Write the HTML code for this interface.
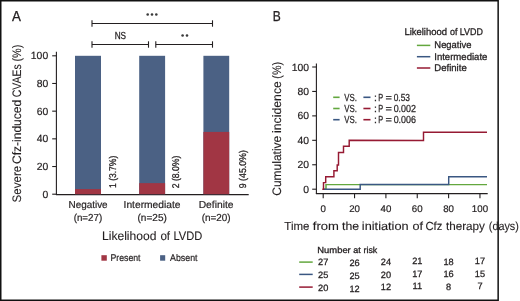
<!DOCTYPE html>
<html><head><meta charset="utf-8"><style>
html,body{margin:0;padding:0;background:#fff;}
body{width:520px;height:301px;overflow:hidden;}
svg{display:block;font-family:"Liberation Sans", sans-serif;} text{fill:#231f20;stroke:#231f20;stroke-width:0.2px;} svg{-webkit-font-smoothing:antialiased;will-change:transform;text-rendering:geometricPrecision;}
</style></head><body>
<svg width="520" height="301" viewBox="0 0 520 301">
<rect x="0.75" y="0.75" width="497.4" height="299.5" fill="none" stroke="#111" stroke-width="1.5"/>
<text x="12.0" y="21.3" font-size="14.4" textLength="8.9" lengthAdjust="spacingAndGlyphs" style="stroke-width:0.3px">A</text>
<text transform="translate(20.5,202.53) rotate(-90)" font-size="12.3" textLength="36.74" lengthAdjust="spacingAndGlyphs" style="stroke-width:0.12px">Severe</text>
<text transform="translate(20.5,164.01) rotate(-90)" font-size="12.3" textLength="64.19" lengthAdjust="spacingAndGlyphs" style="stroke-width:0.12px">Cfz-induced</text>
<text transform="translate(20.5,97.22) rotate(-90)" font-size="12.3" textLength="32.99" lengthAdjust="spacingAndGlyphs" style="stroke-width:0.12px">CVAEs</text>
<text transform="translate(20.5,61.57) rotate(-90)" font-size="12.3" textLength="16.84" lengthAdjust="spacingAndGlyphs" style="stroke-width:0.12px">(%)</text>
<line x1="56.4" y1="51.8" x2="56.4" y2="194.9" stroke="#231f20" stroke-width="1.1"/>
<line x1="55.9" y1="194.6" x2="248.7" y2="194.6" stroke="#231f20" stroke-width="1.25"/>
<line x1="52.2" y1="194.2" x2="56.4" y2="194.2" stroke="#231f20" stroke-width="1.1"/>
<text x="48.2" y="197.79999999999998" font-size="10.4" text-anchor="end">0</text>
<line x1="52.2" y1="166.51999999999998" x2="56.4" y2="166.51999999999998" stroke="#231f20" stroke-width="1.1"/>
<text x="48.2" y="170.11999999999998" font-size="10.4" text-anchor="end">20</text>
<line x1="52.2" y1="138.83999999999997" x2="56.4" y2="138.83999999999997" stroke="#231f20" stroke-width="1.1"/>
<text x="48.2" y="142.43999999999997" font-size="10.4" text-anchor="end">40</text>
<line x1="52.2" y1="111.16" x2="56.4" y2="111.16" stroke="#231f20" stroke-width="1.1"/>
<text x="48.2" y="114.75999999999999" font-size="10.4" text-anchor="end">60</text>
<line x1="52.2" y1="83.47999999999999" x2="56.4" y2="83.47999999999999" stroke="#231f20" stroke-width="1.1"/>
<text x="48.2" y="87.07999999999998" font-size="10.4" text-anchor="end">80</text>
<line x1="52.2" y1="55.80000000000001" x2="56.4" y2="55.80000000000001" stroke="#231f20" stroke-width="1.1"/>
<text x="48.2" y="59.40000000000001" font-size="10.4" text-anchor="end">100</text>
<rect x="75.0" y="55.80000000000001" width="26.0" height="138.39999999999998" fill="#4b6184"/>
<rect x="75.0" y="189.0792" width="26.0" height="5.1208" fill="#a13644"/>
<rect x="139.2" y="55.80000000000001" width="25.9" height="138.39999999999998" fill="#4b6184"/>
<rect x="139.2" y="183.128" width="25.9" height="11.072" fill="#a13644"/>
<rect x="203.4" y="55.80000000000001" width="25.8" height="138.39999999999998" fill="#4b6184"/>
<rect x="203.4" y="131.92" width="25.8" height="62.279999999999994" fill="#a13644"/>
<text transform="translate(116.2,188.0) rotate(-90)" font-size="9.8" textLength="32.3" lengthAdjust="spacingAndGlyphs" style="stroke-width:0.28px">1 (3.7%)</text>
<text transform="translate(179.3,188.3) rotate(-90)" font-size="9.8" textLength="32.6" lengthAdjust="spacingAndGlyphs" style="stroke-width:0.28px">2 (8.0%)</text>
<text transform="translate(246.4,188.3) rotate(-90)" font-size="9.8" textLength="38.2" lengthAdjust="spacingAndGlyphs" style="stroke-width:0.28px">9 (45.0%)</text>
<text x="68.49" y="208.2" font-size="10.2" textLength="39.15" lengthAdjust="spacingAndGlyphs">Negative</text>
<text x="73.69" y="220.6" font-size="10.2" textLength="28.51" lengthAdjust="spacingAndGlyphs">(n=27)</text>
<text x="123.55" y="208.2" font-size="10.2" textLength="57.0" lengthAdjust="spacingAndGlyphs">Intermediate</text>
<text x="137.48" y="220.6" font-size="10.2" textLength="29.35" lengthAdjust="spacingAndGlyphs">(n=25)</text>
<text x="198.66" y="208.2" font-size="10.2" textLength="34.9" lengthAdjust="spacingAndGlyphs">Definite</text>
<text x="201.69" y="220.6" font-size="10.2" textLength="28.93" lengthAdjust="spacingAndGlyphs">(n=20)</text>
<text x="102.01" y="239.7" font-size="12.2" textLength="54.37" lengthAdjust="spacingAndGlyphs" style="stroke-width:0.12px">Likelihood</text>
<text x="160.41" y="239.7" font-size="12.2" textLength="9.67" lengthAdjust="spacingAndGlyphs" style="stroke-width:0.12px">of</text>
<text x="173.41" y="239.7" font-size="12.2" textLength="28.8" lengthAdjust="spacingAndGlyphs" style="stroke-width:0.12px">LVDD</text>
<rect x="101.4" y="255.2" width="5.4" height="5.5" fill="#a13644"/>
<text x="110.48" y="261.2" font-size="9.7" textLength="30.08" lengthAdjust="spacingAndGlyphs">Present</text>
<rect x="160.1" y="255.2" width="5.1" height="5.5" fill="#4b6184"/>
<text x="170.08" y="261.2" font-size="9.7" textLength="27.48" lengthAdjust="spacingAndGlyphs">Absent</text>
<line x1="92.0" y1="23.5" x2="212.5" y2="23.5" stroke="#231f20" stroke-width="1.1"/>
<line x1="92.0" y1="20.3" x2="92.0" y2="26.7" stroke="#231f20" stroke-width="1.1"/>
<line x1="212.5" y1="20.3" x2="212.5" y2="26.7" stroke="#231f20" stroke-width="1.1"/>
<line x1="92.0" y1="44.5" x2="148.5" y2="44.5" stroke="#231f20" stroke-width="1.1"/>
<line x1="92.0" y1="41.3" x2="92.0" y2="47.7" stroke="#231f20" stroke-width="1.1"/>
<line x1="148.5" y1="41.3" x2="148.5" y2="47.7" stroke="#231f20" stroke-width="1.1"/>
<line x1="155.8" y1="44.5" x2="212.5" y2="44.5" stroke="#231f20" stroke-width="1.1"/>
<line x1="155.8" y1="41.3" x2="155.8" y2="47.7" stroke="#231f20" stroke-width="1.1"/>
<line x1="212.5" y1="41.3" x2="212.5" y2="47.7" stroke="#231f20" stroke-width="1.1"/>
<circle cx="147.7" cy="14.5" r="1.3" fill="#3a3a3a"/>
<circle cx="152.0" cy="14.5" r="1.3" fill="#3a3a3a"/>
<circle cx="156.3" cy="14.5" r="1.3" fill="#3a3a3a"/>
<text x="120.35" y="38.8" font-size="10.2" text-anchor="middle" textLength="11.4" lengthAdjust="spacingAndGlyphs" style="stroke-width:0.3px">NS</text>
<circle cx="182.6" cy="35.5" r="1.3" fill="#3a3a3a"/>
<circle cx="187.0" cy="35.5" r="1.3" fill="#3a3a3a"/>
<text x="272.8" y="21.3" font-size="14.4" textLength="8.0" lengthAdjust="spacingAndGlyphs" style="stroke-width:0.3px">B</text>
<text transform="translate(281.0,195.71) rotate(-90)" font-size="12.3" textLength="59.94" lengthAdjust="spacingAndGlyphs" style="stroke-width:0.12px">Cumulative</text>
<text transform="translate(281.0,132.92) rotate(-90)" font-size="12.3" textLength="51.76" lengthAdjust="spacingAndGlyphs" style="stroke-width:0.12px">incidence</text>
<text transform="translate(281.0,78.67) rotate(-90)" font-size="12.3" textLength="16.73" lengthAdjust="spacingAndGlyphs" style="stroke-width:0.12px">(%)</text>
<line x1="316.4" y1="63.5" x2="316.4" y2="194.1" stroke="#231f20" stroke-width="1.1"/>
<line x1="315.9" y1="193.6" x2="487.7" y2="193.6" stroke="#231f20" stroke-width="1.1"/>
<line x1="312.2" y1="189.2" x2="316.4" y2="189.2" stroke="#231f20" stroke-width="1.1"/>
<text x="309.0" y="192.79999999999998" font-size="10.4" text-anchor="end">0</text>
<line x1="312.2" y1="164.76" x2="316.4" y2="164.76" stroke="#231f20" stroke-width="1.1"/>
<text x="309.0" y="168.35999999999999" font-size="10.4" text-anchor="end">20</text>
<line x1="312.2" y1="140.32" x2="316.4" y2="140.32" stroke="#231f20" stroke-width="1.1"/>
<text x="309.0" y="143.92" font-size="10.4" text-anchor="end">40</text>
<line x1="312.2" y1="115.88" x2="316.4" y2="115.88" stroke="#231f20" stroke-width="1.1"/>
<text x="309.0" y="119.47999999999999" font-size="10.4" text-anchor="end">60</text>
<line x1="312.2" y1="91.44" x2="316.4" y2="91.44" stroke="#231f20" stroke-width="1.1"/>
<text x="309.0" y="95.03999999999999" font-size="10.4" text-anchor="end">80</text>
<line x1="312.2" y1="66.99999999999999" x2="316.4" y2="66.99999999999999" stroke="#231f20" stroke-width="1.1"/>
<text x="309.0" y="70.59999999999998" font-size="10.4" text-anchor="end">100</text>
<line x1="323.2" y1="193.6" x2="323.2" y2="198.2" stroke="#231f20" stroke-width="1.1"/>
<text x="323.2" y="211.8" font-size="9.7" text-anchor="middle">0</text>
<line x1="354.55" y1="193.6" x2="354.55" y2="198.2" stroke="#231f20" stroke-width="1.1"/>
<text x="354.55" y="211.8" font-size="9.7" text-anchor="middle">20</text>
<line x1="385.9" y1="193.6" x2="385.9" y2="198.2" stroke="#231f20" stroke-width="1.1"/>
<text x="385.9" y="211.8" font-size="9.7" text-anchor="middle">40</text>
<line x1="417.25" y1="193.6" x2="417.25" y2="198.2" stroke="#231f20" stroke-width="1.1"/>
<text x="417.25" y="211.8" font-size="9.7" text-anchor="middle">60</text>
<line x1="448.59999999999997" y1="193.6" x2="448.59999999999997" y2="198.2" stroke="#231f20" stroke-width="1.1"/>
<text x="448.59999999999997" y="211.8" font-size="9.7" text-anchor="middle">80</text>
<line x1="479.95" y1="193.6" x2="479.95" y2="198.2" stroke="#231f20" stroke-width="1.1"/>
<text x="479.95" y="211.8" font-size="9.7" text-anchor="middle">100</text>
<text x="284.35" y="229.8" font-size="11.7" textLength="25.16" lengthAdjust="spacingAndGlyphs" style="stroke-width:0.12px">Time</text>
<text x="312.82" y="229.8" font-size="11.7" textLength="26.04" lengthAdjust="spacingAndGlyphs" style="stroke-width:0.12px">from</text>
<text x="342.01" y="229.8" font-size="11.7" textLength="17.13" lengthAdjust="spacingAndGlyphs" style="stroke-width:0.12px">the</text>
<text x="361.85" y="229.8" font-size="11.7" textLength="46.78" lengthAdjust="spacingAndGlyphs" style="stroke-width:0.12px">initiation</text>
<text x="412.47" y="229.8" font-size="11.7" textLength="10.51" lengthAdjust="spacingAndGlyphs" style="stroke-width:0.12px">of</text>
<text x="425.43" y="229.8" font-size="11.7" textLength="16.83" lengthAdjust="spacingAndGlyphs" style="stroke-width:0.12px">Cfz</text>
<text x="445.92" y="229.8" font-size="11.7" textLength="39.0" lengthAdjust="spacingAndGlyphs" style="stroke-width:0.12px">therapy</text>
<text x="488.83" y="229.8" font-size="11.7" textLength="30.04" lengthAdjust="spacingAndGlyphs" style="stroke-width:0.12px">(days)</text>
<text x="404.42" y="34.7" font-size="9.7" textLength="42.59" lengthAdjust="spacingAndGlyphs" style="stroke-width:0.3px">Likelihood</text>
<text x="450.02" y="34.7" font-size="9.7" textLength="7.46" lengthAdjust="spacingAndGlyphs" style="stroke-width:0.3px">of</text>
<text x="459.79" y="34.7" font-size="9.7" textLength="23.13" lengthAdjust="spacingAndGlyphs" style="stroke-width:0.3px">LVDD</text>
<line x1="416.9" y1="45.4" x2="430.3" y2="45.4" stroke="#63a73e" stroke-width="1.5"/>
<text x="434.33" y="48.4" font-size="9.7" textLength="37.19" lengthAdjust="spacingAndGlyphs" style="stroke-width:0.3px">Negative</text>
<line x1="416.9" y1="56.7" x2="430.3" y2="56.7" stroke="#3a5782" stroke-width="1.5"/>
<text x="434.22" y="59.7" font-size="9.7" textLength="53.21" lengthAdjust="spacingAndGlyphs" style="stroke-width:0.3px">Intermediate</text>
<line x1="416.9" y1="68.0" x2="430.3" y2="68.0" stroke="#961a33" stroke-width="1.5"/>
<text x="434.32" y="71.0" font-size="9.7" textLength="32.41" lengthAdjust="spacingAndGlyphs" style="stroke-width:0.3px">Definite</text>
<line x1="333.2" y1="97.3" x2="339.6" y2="97.3" stroke="#63a73e" stroke-width="1.6"/>
<text x="344.17" y="101.0" font-size="10.2" textLength="12.65" lengthAdjust="spacingAndGlyphs" style="stroke-width:0.25px">VS.</text>
<line x1="363.4" y1="97.3" x2="370.5" y2="97.3" stroke="#3a5782" stroke-width="1.6"/>
<text x="373.94" y="101.0" font-size="10.2" textLength="2.92" lengthAdjust="spacingAndGlyphs" style="stroke-width:0.25px">:</text>
<text x="378.2" y="101.0" font-size="10.2" textLength="4.89" lengthAdjust="spacingAndGlyphs" style="stroke-width:0.25px">P</text>
<text x="385.57" y="101.0" font-size="10.2" textLength="6.37" lengthAdjust="spacingAndGlyphs" style="stroke-width:0.25px">=</text>
<text x="393.67" y="101.0" font-size="10.2" textLength="16.29" lengthAdjust="spacingAndGlyphs" style="stroke-width:0.25px">0.53</text>
<line x1="333.2" y1="108.5" x2="339.6" y2="108.5" stroke="#63a73e" stroke-width="1.6"/>
<text x="344.17" y="112.2" font-size="10.2" textLength="12.65" lengthAdjust="spacingAndGlyphs" style="stroke-width:0.25px">VS.</text>
<line x1="363.4" y1="108.5" x2="370.5" y2="108.5" stroke="#961a33" stroke-width="1.6"/>
<text x="373.94" y="112.2" font-size="10.2" textLength="2.92" lengthAdjust="spacingAndGlyphs" style="stroke-width:0.25px">:</text>
<text x="378.2" y="112.2" font-size="10.2" textLength="4.89" lengthAdjust="spacingAndGlyphs" style="stroke-width:0.25px">P</text>
<text x="385.57" y="112.2" font-size="10.2" textLength="6.37" lengthAdjust="spacingAndGlyphs" style="stroke-width:0.25px">=</text>
<text x="393.65" y="112.2" font-size="10.2" textLength="22.4" lengthAdjust="spacingAndGlyphs" style="stroke-width:0.25px">0.002</text>
<line x1="333.2" y1="119.69999999999999" x2="339.6" y2="119.69999999999999" stroke="#3a5782" stroke-width="1.6"/>
<text x="344.17" y="123.39999999999999" font-size="10.2" textLength="12.65" lengthAdjust="spacingAndGlyphs" style="stroke-width:0.25px">VS.</text>
<line x1="363.4" y1="119.69999999999999" x2="370.5" y2="119.69999999999999" stroke="#961a33" stroke-width="1.6"/>
<text x="373.94" y="123.39999999999999" font-size="10.2" textLength="2.92" lengthAdjust="spacingAndGlyphs" style="stroke-width:0.25px">:</text>
<text x="378.2" y="123.39999999999999" font-size="10.2" textLength="4.89" lengthAdjust="spacingAndGlyphs" style="stroke-width:0.25px">P</text>
<text x="385.57" y="123.39999999999999" font-size="10.2" textLength="6.37" lengthAdjust="spacingAndGlyphs" style="stroke-width:0.25px">=</text>
<text x="393.65" y="123.39999999999999" font-size="10.2" textLength="22.34" lengthAdjust="spacingAndGlyphs" style="stroke-width:0.25px">0.006</text>
<path d="M323.2,189.3 L326.0,189.3 L326.0,184.6 L487.0,184.6" fill="none" stroke="#63a73e" stroke-width="1.45" stroke-linejoin="miter"/>
<path d="M323.2,189.3 L360.2,189.3 L360.2,184.5 L448.7,184.5 L448.7,176.8 L487.0,176.8" fill="none" stroke="#3a5782" stroke-width="1.45" stroke-linejoin="miter"/>
<path d="M322.3,189.3 L323.5,189.3 L323.5,182.6 L325.7,182.6 L325.7,176.8 L333.9,176.8 L333.9,170.7 L337.2,170.7 L337.2,164.9 L338.5,164.9 L338.5,152.4 L343.5,152.4 L343.5,146.2 L349.2,146.2 L349.2,140.3 L423.5,140.4 L423.5,132.2 L487.0,132.2" fill="none" stroke="#961a33" stroke-width="1.45" stroke-linejoin="miter"/>
<text x="317.33" y="252.7" font-size="8.7" textLength="33.43" lengthAdjust="spacingAndGlyphs" style="stroke-width:0.3px">Number</text>
<text x="353.32" y="252.7" font-size="8.7" textLength="7.55" lengthAdjust="spacingAndGlyphs" style="stroke-width:0.3px">at</text>
<text x="363.51" y="252.7" font-size="8.7" textLength="13.78" lengthAdjust="spacingAndGlyphs" style="stroke-width:0.3px">risk</text>
<line x1="299.2" y1="262.1" x2="312.7" y2="262.1" stroke="#63a73e" stroke-width="1.5"/>
<text x="323.2" y="265" font-size="9.2" text-anchor="middle" style="stroke-width:0.28px">27</text>
<text x="354.55" y="266.3" font-size="9.2" text-anchor="middle" style="stroke-width:0.28px">26</text>
<text x="385.9" y="265" font-size="9.2" text-anchor="middle" style="stroke-width:0.28px">24</text>
<text x="417.25" y="264.4" font-size="9.2" text-anchor="middle" style="stroke-width:0.28px">21</text>
<text x="448.59999999999997" y="264.5" font-size="9.2" text-anchor="middle" style="stroke-width:0.28px">18</text>
<text x="479.95" y="264.4" font-size="9.2" text-anchor="middle" style="stroke-width:0.28px">17</text>
<line x1="299.2" y1="274.4" x2="312.7" y2="274.4" stroke="#3a5782" stroke-width="1.5"/>
<text x="323.2" y="277.9" font-size="9.2" text-anchor="middle" style="stroke-width:0.28px">25</text>
<text x="354.55" y="279.2" font-size="9.2" text-anchor="middle" style="stroke-width:0.28px">25</text>
<text x="385.9" y="277.5" font-size="9.2" text-anchor="middle" style="stroke-width:0.28px">20</text>
<text x="417.25" y="276.9" font-size="9.2" text-anchor="middle" style="stroke-width:0.28px">17</text>
<text x="448.59999999999997" y="276.9" font-size="9.2" text-anchor="middle" style="stroke-width:0.28px">16</text>
<text x="479.95" y="277" font-size="9.2" text-anchor="middle" style="stroke-width:0.28px">15</text>
<line x1="299.2" y1="287.1" x2="312.7" y2="287.1" stroke="#961a33" stroke-width="1.5"/>
<text x="323.2" y="290.8" font-size="9.2" text-anchor="middle" style="stroke-width:0.28px">20</text>
<text x="354.55" y="292.3" font-size="9.2" text-anchor="middle" style="stroke-width:0.28px">12</text>
<text x="385.9" y="290" font-size="9.2" text-anchor="middle" style="stroke-width:0.28px">12</text>
<text x="417.25" y="289.4" font-size="9.2" text-anchor="middle" style="stroke-width:0.28px">11</text>
<text x="448.59999999999997" y="289.5" font-size="9.2" text-anchor="middle" style="stroke-width:0.28px">8</text>
<text x="479.95" y="289.4" font-size="9.2" text-anchor="middle" style="stroke-width:0.28px">7</text>
</svg>
</body></html>
